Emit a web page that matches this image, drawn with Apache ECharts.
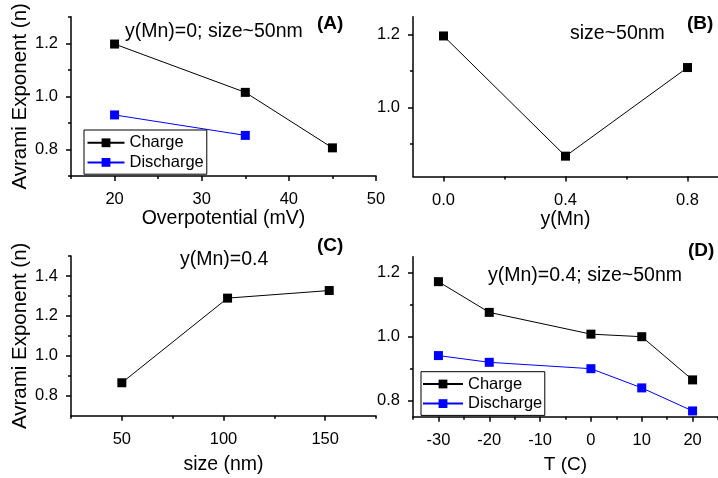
<!DOCTYPE html>
<html>
<head>
<meta charset="utf-8">
<script src="https://cdn.jsdelivr.net/npm/echarts@6/dist/echarts.min.js"></script>
<style>
html,body{margin:0;padding:0;background:#fff;}
#chart{width:718px;height:478px;}
</style>
</head>
<body>
<div id="chart"></div>
<script>
// ---- Data ----
const overpotentialCharge = [20, 35, 45];
const chargeA = [1.197, 1.015, 0.806];
const overpotentialDischarge = [20, 35];
const dischargeA = [0.930, 0.853];

const yMn = [0.0, 0.4, 0.8];
const valuesB = [1.197, 0.866, 1.110];

const sizeNm = [50, 102, 152];
const valuesC = [0.865, 1.289, 1.327];

const tempC = [-30, -20, 0, 10, 20];
const chargeD = [1.172, 1.076, 1.008, 1.000, 0.865];
const dischargeD = [0.941, 0.920, 0.900, 0.840, 0.768];

// ---- Tick values ----
const ticksAx = [20, 30, 40, 50];
const minorAx = [15, 25, 35, 45];
const ticksAy = [0.8, 1.0, 1.2];
const minorAy = [0.7, 0.9, 1.1, 1.3];
const ticksBx = [0.0, 0.4, 0.8];
const minorBx = [0.2, 0.6];
const ticksBy = [1.0, 1.2];
const minorBy = [0.9, 1.1];
const ticksCx = [50, 100, 150];
const minorCx = [25, 75, 125, 175];
const ticksCy = [0.8, 1.0, 1.2, 1.4];
const minorCy = [0.9, 1.1, 1.3, 1.5];
const ticksDx = [-30, -20, -10, 0, 10, 20];
const minorDx = [-35, -25, -15, -5, 5, 15, 25];
const ticksDy = [0.8, 1.0, 1.2];
const minorDy = [0.9, 1.1];

const FONT = '"Liberation Sans", Arial, Helvetica, sans-serif';
const BLACK = '#000000';
const BLUE = '#0000ff';

function pair(kind, gridIndex, min, max, major, minor, fmt, name, nameGap, nameSize) {
  const pos = kind === 'x' ? 'bottom' : 'left';
  const main = {
    type: 'value', gridIndex: gridIndex, min: min, max: max, position: pos,
    axisLine: { show: true, onZero: false, lineStyle: { color: BLACK, width: 1.5 } },
    axisTick: { show: true, inside: false, length: 5, customValues: major, lineStyle: { color: BLACK, width: 1.5 } },
    axisLabel: { show: true, customValues: major, formatter: fmt, color: BLACK, fontSize: 16.5, fontFamily: FONT, margin: kind === 'x' ? 15 : 13 },
    splitLine: { show: false },
    name: name || '', nameLocation: 'middle', nameGap: nameGap || 0,
    nameTextStyle: { color: BLACK, fontSize: nameSize || 19.5, fontFamily: FONT }
  };
  const sub = {
    type: 'value', gridIndex: gridIndex, min: min, max: max, position: pos, offset: 0,
    axisLine: { show: false, onZero: false },
    axisTick: { show: true, inside: false, length: 3, customValues: minor, lineStyle: { color: BLACK, width: 1.5 } },
    axisLabel: { show: false },
    splitLine: { show: false }
  };
  return [main, sub];
}
const f1 = v => v.toFixed(1);
const f0 = v => String(Math.round(v));

const xA = pair('x', 0, 15, 50, ticksAx, minorAx, f0, 'Overpotential (mV)', 25, 19.5);
const yA = pair('y', 0, 0.7, 1.3, ticksAy, minorAy, f1, 'Avrami Exponent (n)', 39, 20.5);
const xB = pair('x', 1, -0.1, 0.9, ticksBx, minorBx, f1, 'y(Mn)', 25, 19.5);
const yB = pair('y', 1, 0.81, 1.25, ticksBy, minorBy, f1, '', 0);
const xC = pair('x', 2, 25, 175, ticksCx, minorCx, f0, 'size (nm)', 39, 19.5);
const yC = pair('y', 2, 0.7, 1.5, ticksCy, minorCy, f1, 'Avrami Exponent (n)', 39, 20.5);
const xD = pair('x', 3, -35, 25, ticksDx, minorDx, f0, 'T (C)', 39, 19);
const yD = pair('y', 3, 0.75, 1.25, ticksDy, minorDy, f1, '', 0);

const xAxes = [xA[0], xB[0], xC[0], xD[0], xA[1], xB[1], xC[1], xD[1]];
const yAxes = [yA[0], yB[0], yC[0], yD[0], yA[1], yB[1], yC[1], yD[1]];

function zip(xs, ys) { return xs.map((x, i) => [x, ys[i]]); }
function ser(name, color, gi, xs, ys) {
  return {
    type: 'line', name: name, xAxisIndex: gi, yAxisIndex: gi,
    data: zip(xs, ys), symbol: 'rect', symbolSize: 9,
    lineStyle: { color: color, width: 1 },
    itemStyle: { color: color },
    animation: false, silent: true
  };
}

function legendAt(left, top, iw, padding) {
  return {
    orient: 'vertical', left: left, top: top,
    data: ['Charge', 'Discharge'],
    itemWidth: iw, itemHeight: 11, itemGap: 0,
    borderColor: BLACK, borderWidth: 1, padding: padding,
    backgroundColor: '#fff',
    textStyle: { color: BLACK, fontSize: 16.5, fontFamily: FONT, lineHeight: 19.6 },
    selectedMode: false
  };
}

function txt(x, y, text, size, bold) {
  return {
    type: 'text', x: x, y: y, z: 100,
    style: { text: text, fill: BLACK, font: (bold ? 'bold ' : '') + size + 'px ' + FONT, align: 'left', verticalAlign: 'middle' }
  };
}

const option = {
  backgroundColor: '#ffffff',
  animation: false,
  grid: [
    { left: 71, top: 16.7, width: 305, height: 159.3 },
    { left: 413, top: 16.7, width: 305, height: 159.8 },
    { left: 71, top: 256, width: 305, height: 159.7 },
    { left: 413, top: 256.7, width: 305, height: 160 }
  ],
  xAxis: xAxes,
  yAxis: yAxes,
  legend: [
    legendAt(84, 130, 37, [3, 3, 2, 2.5]),
    legendAt(421, 371.7, 40, [2.5, 2.5, 2, 1])
  ],
  series: [
    ser('Charge', BLACK, 0, overpotentialCharge, chargeA),
    ser('Discharge', BLUE, 0, overpotentialDischarge, dischargeA),
    ser('B', BLACK, 1, yMn, valuesB),
    ser('C', BLACK, 2, sizeNm, valuesC),
    ser('Charge', BLACK, 3, tempC, chargeD),
    ser('Discharge', BLUE, 3, tempC, dischargeD)
  ],
  graphic: [
    txt(125, 32, 'y(Mn)=0; size~50nm', 19.5, false),
    txt(317, 23.5, '(A)', 19, true),
    txt(570, 34, 'size~50nm', 19.5, false),
    txt(687, 24, '(B)', 19, true),
    txt(180, 260, 'y(Mn)=0.4', 19.5, false),
    txt(317, 246, '(C)', 19, true),
    txt(488, 276, 'y(Mn)=0.4; size~50nm', 19.5, false),
    txt(688, 251, '(D)', 19, true)
  ]
};

const chart = echarts.init(document.getElementById('chart'), null, { renderer: 'canvas' });
chart.setOption(option);
</script>
</body>
</html>
